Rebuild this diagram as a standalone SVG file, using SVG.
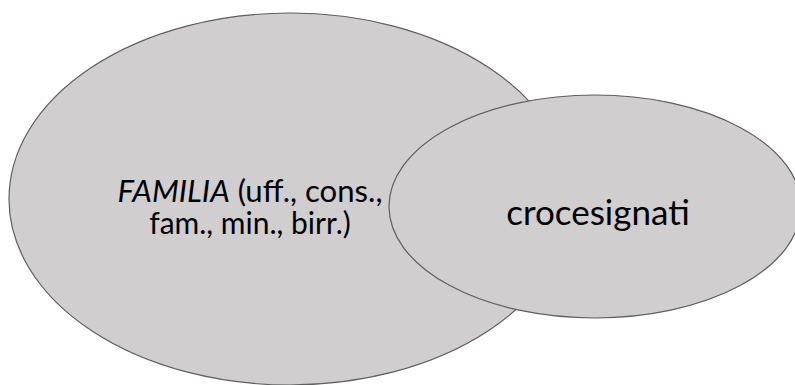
<svg xmlns="http://www.w3.org/2000/svg" width="795" height="385" viewBox="0 0 795 385">
<style>
.set{fill:#D0CECE;stroke:#5f5f5f;stroke-width:1.2}
.t{font-family:Lato,"Open Sans","Liberation Sans",sans-serif;fill:#000;text-anchor:middle}
.s{font-size:30px}
</style>
<rect width="795" height="385" fill="#fff"/>
<g id="familia">
<ellipse class="set" cx="290" cy="199" rx="281" ry="186"/>
<text class="t s" x="250" y="202" textLength="265" lengthAdjust="spacingAndGlyphs"><tspan font-style="italic">FAMILIA</tspan> (uff., cons.,</text>
<text class="t s" x="250" y="234">fam., min., birr.)</text>
</g>
<g id="crocesignati">
<ellipse class="set" cx="595" cy="206.5" rx="206" ry="111.5"/>
<text class="t" x="598" y="225" font-size="35">crocesignati</text>
</g>
<g id="connectors"/>
</svg>
